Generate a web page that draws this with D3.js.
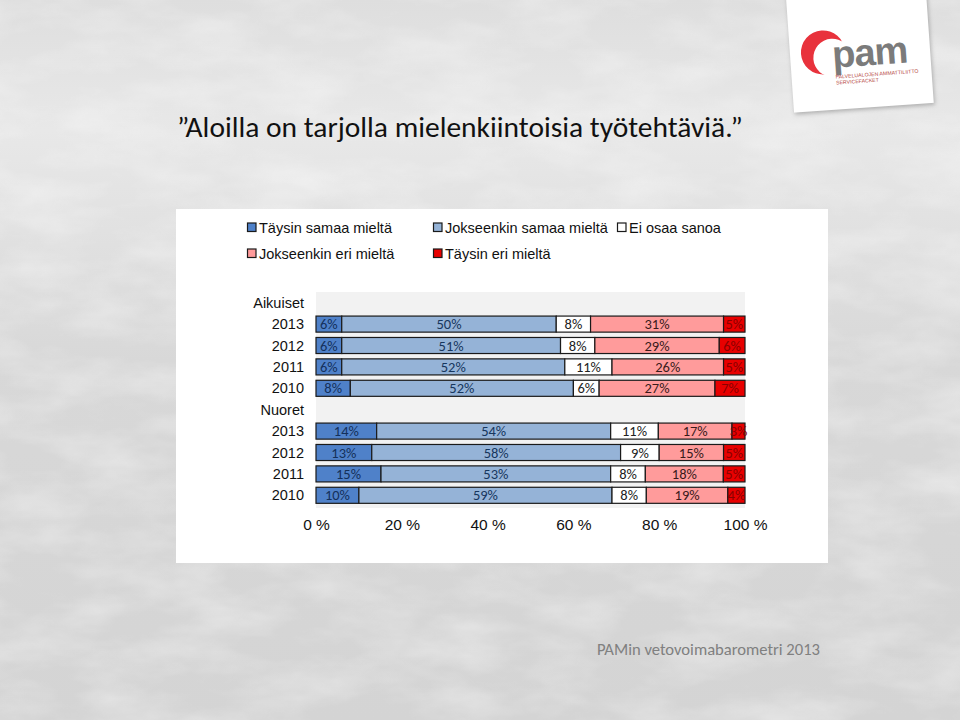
<!DOCTYPE html>
<html>
<head>
<meta charset="utf-8">
<script src="https://cdn.jsdelivr.net/npm/d3@7"></script>
<style>
  body { margin: 0; background: #d6d6d6; }
  svg { display: block; }
</style>
</head>
<body>
<script>
// rows of the chart (group headers have no bars)
var rowLabels = ["Aikuiset", "2013", "2012", "2011", "2010", "Nuoret", "2013", "2012", "2011", "2010"];
var seriesNames = ["Täysin samaa mieltä", "Jokseenkin samaa mieltä", "Ei osaa sanoa", "Jokseenkin eri mieltä", "Täysin eri mieltä"];

var taysinSamaa     = [null, 6, 6, 6, 8, null, 14, 13, 15, 10];
var jokseenkinSamaa = [null, 50, 51, 52, 52, null, 54, 58, 53, 59];
var eiOsaa          = [null, 8, 8, 11, 6, null, 11, 9, 8, 8];
var jokseenkinEri   = [null, 31, 29, 26, 27, null, 17, 15, 18, 19];
var taysinEri       = [null, 5, 6, 5, 7, null, 3, 5, 5, 4];

var tickValues = [0, 20, 40, 60, 80, 100];

var seriesValues = [taysinSamaa, jokseenkinSamaa, eiOsaa, jokseenkinEri, taysinEri];
var colors = ["#4f81c9", "#95b3d7", "#ffffff", "#ff9b9b", "#e80000"];
var labelColors = ["#14305a", "#17375e", "#222", "#3a1a1a", "#8a0000"];

var W = 960, H = 720;
var svg = d3.select("body").append("svg").attr("width", W).attr("height", H);

// ---- background (grey concrete-ish) ----
var defs = svg.append("defs");
var bgGrad = defs.append("linearGradient").attr("id", "bg").attr("x1", 0).attr("y1", 0).attr("x2", 0).attr("y2", 1);
bgGrad.append("stop").attr("offset", "0").attr("stop-color", "#dedede");
bgGrad.append("stop").attr("offset", "0.18").attr("stop-color", "#e8e8e8");
bgGrad.append("stop").attr("offset", "0.5").attr("stop-color", "#d8d8d8");
bgGrad.append("stop").attr("offset", "1").attr("stop-color", "#d4d4d4");

var noise = defs.append("filter").attr("id", "noise").attr("x", 0).attr("y", 0).attr("width", "100%").attr("height", "100%");
noise.append("feTurbulence").attr("type", "fractalNoise").attr("baseFrequency", "0.012 0.03").attr("numOctaves", 4).attr("seed", 3);
noise.append("feColorMatrix").attr("type", "matrix")
  .attr("values", "0 0 0 0 1  0 0 0 0 1  0 0 0 0 1  0 0 0 -1.4 0.9");

svg.append("rect").attr("width", W).attr("height", H).attr("fill", "url(#bg)");
svg.append("rect").attr("width", W).attr("height", H).attr("filter", "url(#noise)").attr("opacity", 0.45);

// ---- logo card ----
var logo = svg.append("g").attr("transform", "translate(858,52) rotate(-4)");
logo.append("rect").attr("x", -68).attr("y", -62).attr("width", 140).attr("height", 118)
  .attr("fill", "#ffffff").style("filter", "drop-shadow(1px 2px 2px rgba(0,0,0,0.25))");
// red crescent: outer disc minus an offset inner disc
logo.append("circle").attr("cx", -35).attr("cy", -2).attr("r", 22).attr("fill", "#e8323c");
logo.append("circle").attr("cx", -26).attr("cy", 4).attr("r", 19).attr("fill", "#ffffff");
logo.append("text").attr("x", -26).attr("y", 14).text("pam")
  .attr("font-family", "'Liberation Sans', Arial, sans-serif").attr("font-size", 38).attr("font-weight", "bold")
  .attr("fill", "#7b7b7b").attr("letter-spacing", -1);
logo.append("text").attr("x", -24).attr("y", 25).text("PALVELUALOJEN AMMATTILIITTO")
  .attr("font-family", "'Liberation Sans', Arial, sans-serif").attr("font-size", 5.2).attr("fill", "#b5473f");
logo.append("text").attr("x", -24).attr("y", 31).text("SERVICEFACKET")
  .attr("font-family", "'Liberation Sans', Arial, sans-serif").attr("font-size", 5.2).attr("fill", "#b5473f");

// ---- title ----
svg.append("text").attr("x", 177).attr("y", 137)
  .text("\u201dAloilla on tarjolla mielenkiintoisia työtehtäviä.\u201d")
  .attr("font-family", "Carlito, Calibri, Lato, sans-serif").attr("font-size", 29.5).attr("font-weight", 300)
  .attr("fill", "#111");

// ---- footer ----
svg.append("text").attr("x", 597).attr("y", 655).text("PAMin vetovoimabarometri 2013")
  .attr("font-family", "Carlito, Calibri, Lato, sans-serif").attr("font-size", 16.6).attr("font-weight", 300)
  .attr("fill", "#808080");

// ---- chart panel ----
svg.append("rect").attr("x", 176).attr("y", 209).attr("width", 652).attr("height", 354).attr("fill", "#ffffff");

var x = d3.scaleLinear().domain([0, 100]).range([316, 745]);
var y = d3.scaleBand().domain(d3.range(rowLabels.length)).range([292, 506]).paddingInner(0.25).paddingOuter(0.125);

svg.append("rect").attr("x", x(0)).attr("y", 292).attr("width", x(100) - x(0)).attr("height", 216).attr("fill", "#f2f2f2");

// stacked rows, normalised to 100 %
var rows = rowLabels.map(function(lab, i) {
  if (taysinSamaa[i] === null) return null;
  var vals = seriesValues.map(function(s) { return s[i]; });
  var total = d3.sum(vals);
  var acc = 0;
  return vals.map(function(v, k) {
    var seg = {row: i, k: k, v: v, x0: acc / total * 100, x1: (acc + v) / total * 100};
    acc += v;
    return seg;
  });
}).filter(function(r) { return r; });

var segs = [].concat.apply([], rows);

var bars = svg.append("g");
bars.selectAll("rect").data(segs).enter().append("rect")
  .attr("x", function(d) { return x(d.x0); })
  .attr("y", function(d) { return y(d.row); })
  .attr("width", function(d) { return x(d.x1) - x(d.x0); })
  .attr("height", y.bandwidth())
  .attr("fill", function(d) { return colors[d.k]; })
  .attr("stroke", "#1a1a1a").attr("stroke-width", 1.2);

bars.selectAll("text").data(segs).enter().append("text")
  .attr("x", function(d) { return (x(d.x0) + x(d.x1)) / 2; })
  .attr("y", function(d) { return y(d.row) + y.bandwidth() / 2 + 5; })
  .attr("text-anchor", "middle")
  .attr("font-family", "Carlito, Calibri, Lato, sans-serif").attr("font-size", 14.5)
  .attr("fill", function(d) { return labelColors[d.k]; })
  .text(function(d) { return d.v + "%"; });

// category labels
svg.append("g").selectAll("text").data(rowLabels).enter().append("text")
  .attr("x", 304)
  .attr("y", function(d, i) { return y(i) + y.bandwidth() / 2 + 5; })
  .attr("text-anchor", "end")
  .attr("font-family", "'Liberation Sans', Arial, sans-serif").attr("font-size", 14.5).attr("fill", "#111")
  .text(function(d) { return d; });

// x axis
var xAxis = d3.axisBottom(x).tickValues(tickValues).tickSize(0).tickPadding(0)
  .tickFormat(function(d) { return d + " %"; });
var ax = svg.append("g").attr("transform", "translate(0,519)").call(xAxis);
ax.select(".domain").remove();
ax.selectAll("text").attr("font-family", "'Liberation Sans', Arial, sans-serif").attr("font-size", 15.5).attr("fill", "#111");

// legend
var legendPos = [[247, 227], [433, 227], [617, 227], [247, 253], [433, 253]];
var legend = svg.append("g").selectAll("g").data(seriesNames).enter().append("g")
  .attr("transform", function(d, i) { return "translate(" + legendPos[i][0] + "," + legendPos[i][1] + ")"; });
legend.append("rect").attr("x", 0.5).attr("y", -4).attr("width", 8.5).attr("height", 8.5)
  .attr("fill", function(d, i) { return colors[i]; }).attr("stroke", "#1a1a1a").attr("stroke-width", 1.2);
legend.append("text").attr("x", 12).attr("y", 5.5)
  .attr("font-family", "'Liberation Sans', Arial, sans-serif").attr("font-size", 14.5).attr("fill", "#111")
  .text(function(d) { return d; });
</script>
</body>
</html>
